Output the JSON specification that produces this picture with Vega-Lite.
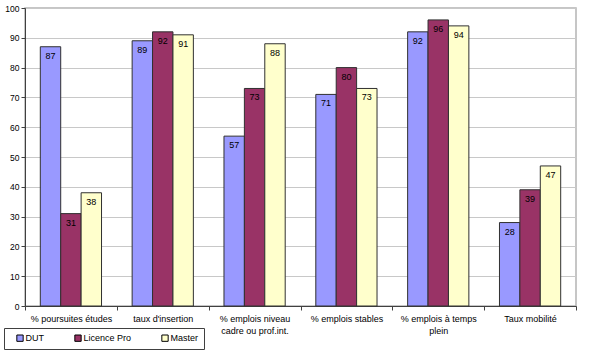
{
  "$schema": "https://vega.github.io/schema/vega-lite/v6.json",
  "width": 551,
  "height": 298,
  "autosize": "none",
  "padding": {"left": 25, "top": 8, "right": 17, "bottom": 55},
  "background": "white",
  "config": {
    "font": "Liberation Sans",
    "view": {"stroke": "#b4b4b4", "strokeWidth": 1.5}
  },
  "data": {
    "values": [
      {"cat": "% poursuites études", "serie": "DUT", "v": 87},
      {"cat": "% poursuites études", "serie": "Licence Pro", "v": 31},
      {"cat": "% poursuites études", "serie": "Master", "v": 38},
      {"cat": "taux d'insertion", "serie": "DUT", "v": 89},
      {"cat": "taux d'insertion", "serie": "Licence Pro", "v": 92},
      {"cat": "taux d'insertion", "serie": "Master", "v": 91},
      {"cat": "% emplois niveau cadre ou prof.int.", "serie": "DUT", "v": 57},
      {"cat": "% emplois niveau cadre ou prof.int.", "serie": "Licence Pro", "v": 73},
      {"cat": "% emplois niveau cadre ou prof.int.", "serie": "Master", "v": 88},
      {"cat": "% emplois stables", "serie": "DUT", "v": 71},
      {"cat": "% emplois stables", "serie": "Licence Pro", "v": 80},
      {"cat": "% emplois stables", "serie": "Master", "v": 73},
      {"cat": "% emplois à temps plein", "serie": "DUT", "v": 92},
      {"cat": "% emplois à temps plein", "serie": "Licence Pro", "v": 96},
      {"cat": "% emplois à temps plein", "serie": "Master", "v": 94},
      {"cat": "Taux mobilité", "serie": "DUT", "v": 28},
      {"cat": "Taux mobilité", "serie": "Licence Pro", "v": 39},
      {"cat": "Taux mobilité", "serie": "Master", "v": 47}
    ]
  },
  "encoding": {
    "x": {
      "field": "cat",
      "type": "nominal",
      "sort": null,
      "scale": {"paddingInner": 0, "paddingOuter": 0},
      "axis": {
        "title": null,
        "labelAngle": 0,
        "tickBand": "extent",
        "domainColor": "#404040",
        "tickColor": "#404040",
        "tickSize": 4,
        "labelFontSize": 9,
        "labelLineHeight": 12.5,
        "labelColor": "#000000",
        "labelPadding": 4,
        "labelExpr": "datum.value == '% emplois niveau cadre ou prof.int.' ? ['% emplois niveau', 'cadre ou prof.int.'] : datum.value == '% emplois à temps plein' ? ['% emplois à temps', 'plein'] : datum.value"
      }
    },
    "xOffset": {
      "field": "serie",
      "type": "nominal",
      "scale": {"paddingOuter": 0.75, "paddingInner": 0}
    },
    "y": {
      "field": "v",
      "type": "quantitative",
      "scale": {"domain": [0, 100], "nice": false},
      "axis": {
        "title": null,
        "values": [0, 10, 20, 30, 40, 50, 60, 70, 80, 90, 100],
        "gridColor": "#c8c8c8",
        "gridWidth": 1,
        "domainColor": "#404040",
        "tickColor": "#404040",
        "tickSize": 4,
        "labelFontSize": 8.5,
        "labelColor": "#000000",
        "labelPadding": 2
      }
    }
  },
  "layer": [
    {
      "mark": {"type": "bar", "stroke": "#303030", "strokeWidth": 1},
      "encoding": {
        "color": {
          "field": "serie",
          "type": "nominal",
          "scale": {
            "domain": ["DUT", "Licence Pro", "Master"],
            "range": ["#9999FF", "#993366", "#FFFFCC"]
          },
          "legend": {
            "title": " ",
            "titleOrient": "left",
            "titlePadding": 6,
            "orient": "none",
            "direction": "horizontal",
            "legendX": -21,
            "legendY": 320,
            "symbolType": "square",
            "symbolSize": 40,
            "symbolStrokeColor": "#000000",
            "symbolStrokeWidth": 1,
            "labelFontSize": 9,
            "labelColor": "#000000",
            "labelOffset": 1,
            "columnPadding": 28,
            "padding": 5.5,
            "labelExpr": "datum.label == 'Master' ? 'Master    ' : datum.label",
            "strokeColor": "#404040",
            "fillColor": "white"
          }
        }
      }
    },
    {
      "mark": {"type": "text", "baseline": "top", "dy": 5, "fontSize": 9, "color": "#000000"},
      "encoding": {"text": {"field": "v", "type": "quantitative"}}
    }
  ]
}
